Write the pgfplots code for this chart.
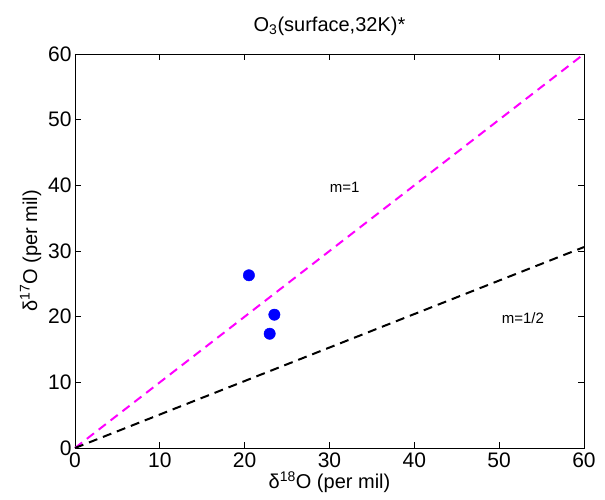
\documentclass[border=0pt]{standalone}
\usepackage{pgfplots}
\pgfplotsset{compat=1.18}
\usepackage{fontspec}
\setmainfont{Liberation Sans}
\usetikzlibrary{calc}
\definecolor{mag}{RGB}{255,0,255}
\definecolor{pblue}{RGB}{0,0,255}
\begin{document}
\begin{tikzpicture}[x=1pt,y=1pt]
\begin{axis}[
  scale only axis, width=509pt, height=394pt,
  xmin=0, xmax=60, ymin=0, ymax=60,
  xtick={0,10,...,60}, ytick={0,10,...,60},
  tick align=inside, major tick length=6pt,
  tick style={black, line width=0.7pt},
  axis line style={line width=0.9pt},
  /pgf/number format/assume math mode=true,
  ticklabel style={font=\fontsize{21}{21}\selectfont},
  xticklabel style={yshift=-1pt},
  yticklabel style={xshift=0pt},
  label style={font=\fontsize{20}{20}\selectfont},
  xlabel={δ\textsuperscript{18}O (per mil)},
  ylabel={δ\textsuperscript{17}O (per mil)},
  xlabel style={yshift=3pt},
  ylabel style={yshift=0pt},
  title={O\textsubscript{3}(surface,32K)*},
  title style={font=\fontsize{20}{20}\selectfont, yshift=9pt},
  clip=false,
]
\addplot[mag, line width=2pt, dash pattern=on 9pt off 6pt] coordinates {(0,0) (60,60)};
\addplot[black, line width=2pt, dash pattern=on 9pt off 6pt] coordinates {(0,0) (60,30.6)};
\addplot[only marks, mark=*, mark size=5.7pt, pblue, mark options={fill=pblue, draw=pblue}] coordinates {
(20.5,26.3) (23.5,20.3) (22.95,17.4)};
\node[font=\fontsize{15}{15}\selectfont] at (axis cs:31.8,39.7) {m=1};
\node[font=\fontsize{15}{15}\selectfont] at (axis cs:52.8,19.8) {m=1/2};
\end{axis}
\path[use as bounding box] ($(current axis.south west)+(-75pt,-52pt)$) rectangle ($(current axis.north east)+(21pt,54pt)$);
\end{tikzpicture}
\end{document}
